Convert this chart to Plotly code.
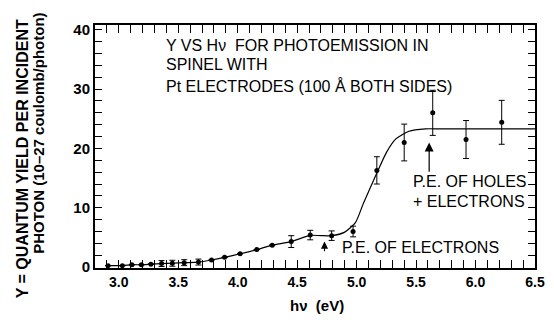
import plotly.graph_objects as go

# measured points
hv = [2.91, 3.03, 3.11, 3.19, 3.27, 3.36, 3.45, 3.55, 3.67, 3.78, 3.89, 4.02,
      4.16, 4.29, 4.45, 4.61, 4.79, 4.97, 5.17, 5.40, 5.64, 5.92, 6.22]
yield_y = [0.25, 0.25, 0.4, 0.4, 0.5, 0.6, 0.65, 0.75, 0.85, 1.2, 1.65, 2.25,
           2.95, 3.7, 4.3, 5.4, 5.3, 6.0, 16.3, 21.0, 26.0, 21.5, 24.4]
yield_err = [0, 0, 0, 0, 0, 0.5, 0.5, 0.5, 0.5, 0, 0, 0,
             0, 0, 1.0, 0.8, 0.8, 0.9, 2.3, 3.1, 3.8, 3.2, 3.7]

# hand-drawn fitted curve
curve_hv = [2.91, 3.03, 3.11, 3.19, 3.27, 3.36, 3.45, 3.55, 3.67, 3.78, 3.89, 4.02,
            4.16, 4.29, 4.45, 4.61, 4.70, 4.79, 4.90, 4.99, 5.06, 5.14, 5.18,
            5.25, 5.33, 5.44, 5.58, 5.70, 6.50]
curve_y = [0.25, 0.25, 0.4, 0.4, 0.5, 0.6, 0.65, 0.75, 0.85, 1.2, 1.65, 2.25,
           2.95, 3.7, 4.3, 5.35, 5.3, 5.3, 5.9, 7.5, 10.9, 14.5, 16.3,
           19.3, 21.6, 22.9, 23.3, 23.3, 23.3]

# axis ticks (every 0.1 eV, labelled every 0.5 eV)
x_tick_values = [2.9, 3.0, 3.1, 3.2, 3.3, 3.4, 3.5, 3.6, 3.7, 3.8, 3.9, 4.0,
                 4.1, 4.2, 4.3, 4.4, 4.5, 4.6, 4.7, 4.8, 4.9, 5.0, 5.1, 5.2,
                 5.3, 5.4, 5.5, 5.6, 5.7, 5.8, 5.9, 6.0, 6.1, 6.2, 6.3, 6.4, 6.5]
x_tick_labels = ["", "3.0", "", "", "", "", "3.5", "", "", "", "", "4.0",
                 "", "", "", "", "4.5", "", "", "", "", "5.0", "", "",
                 "", "", "5.5", "", "", "", "", "6.0", "", "", "", "", "6.5"]
y_tick_values = [0, 2, 4, 6, 8, 10, 12, 14, 16, 18, 20, 22, 24, 26, 28,
                 30, 32, 34, 36, 38, 40]
y_tick_labels = ["0", "", "", "", "", "10", "", "", "", "", "20", "", "", "", "",
                 "30", "", "", "", "", "40"]

FONT = "Liberation Sans, Arial, Helvetica, sans-serif"

fig = go.Figure()
fig.add_trace(go.Scatter(
    x=curve_hv, y=curve_y, mode="lines",
    line=dict(color="black", width=1.2, shape="spline", smoothing=0.6),
    hoverinfo="skip", showlegend=False))
fig.add_trace(go.Scatter(
    x=hv, y=yield_y, mode="markers",
    marker=dict(color="black", size=5),
    error_y=dict(type="data", array=yield_err, visible=True,
                 color="black", thickness=1, width=3),
    showlegend=False))

fig.update_layout(
    width=554, height=320,
    margin=dict(l=95, r=9, t=25, b=52),
    plot_bgcolor="white", paper_bgcolor="white",
    font=dict(family=FONT, color="black"),
)
fig.update_xaxes(
    range=[2.8, 6.5], showgrid=False,
    showline=True, linecolor="black", linewidth=2, mirror="ticks",
    tickmode="array", tickvals=x_tick_values, ticktext=x_tick_labels,
    ticks="inside", ticklen=8, tickwidth=1.3, tickcolor="black",
    tickfont=dict(size=14, family=FONT, weight="bold"),
)
fig.update_yaxes(
    range=[-0.15, 40.8], showgrid=False, zeroline=False,
    showline=True, linecolor="black", linewidth=2, mirror="allticks",
    tickmode="array", tickvals=y_tick_values, ticktext=y_tick_labels,
    ticks="inside", ticklen=7, tickwidth=1, tickcolor="black",
    tickfont=dict(size=15, family=FONT, weight="bold"),
)

ann = []
def txt(x, y, s, size=16, xanchor="left"):
    ann.append(dict(x=x, y=y, xref="x", yref="y", text=s, showarrow=False,
                    xanchor=xanchor, yanchor="middle",
                    font=dict(size=size, family=FONT, color="black")))

txt(3.384, 37.3, "Y VS H\u03bd  FOR PHOTOEMISSION IN")
txt(3.384, 34.1, "SPINEL WITH")
txt(3.384, 30.6, "Pt ELECTRODES (100 \u00c5 BOTH SIDES)")
txt(5.46, 14.4, "P.E. OF HOLES")
txt(5.46, 11.0, "+ ELECTRONS")
txt(4.86, 3.3, "P.E. OF ELECTRONS")

ann.append(dict(x=5.61, y=21.0, ax=5.61, ay=15.8, xref="x", yref="y",
                axref="x", ayref="y", showarrow=True, arrowhead=2,
                arrowsize=1.5, arrowwidth=1.2, arrowcolor="black", text=""))
ann.append(dict(x=4.73, y=4.3, ax=4.73, ay=2.4, xref="x", yref="y",
                axref="x", ayref="y", showarrow=True, arrowhead=2,
                arrowsize=1.3, arrowwidth=1.1, arrowcolor="black", text=""))

# axis titles
ann.append(dict(x=0.505, y=-0.155, xref="paper", yref="paper",
                text="h\u03bd  (eV)", showarrow=False, xanchor="center",
                yanchor="middle", font=dict(size=15, family=FONT, weight="bold")))
ann.append(dict(x=-0.165, y=0.449, xref="paper", yref="paper",
                text="Y = QUANTUM YIELD PER INCIDENT", showarrow=False,
                textangle=-90, xanchor="center", yanchor="middle",
                font=dict(size=16, family=FONT, weight="bold")))
ann.append(dict(x=-0.129, y=0.553, xref="paper", yref="paper",
                text="PHOTON (10\u201327 coulomb/photon)", showarrow=False,
                textangle=-90, xanchor="center", yanchor="middle",
                font=dict(size=15, family=FONT, weight="bold")))

fig.update_layout(annotations=ann)
fig.write_html("out.html")
